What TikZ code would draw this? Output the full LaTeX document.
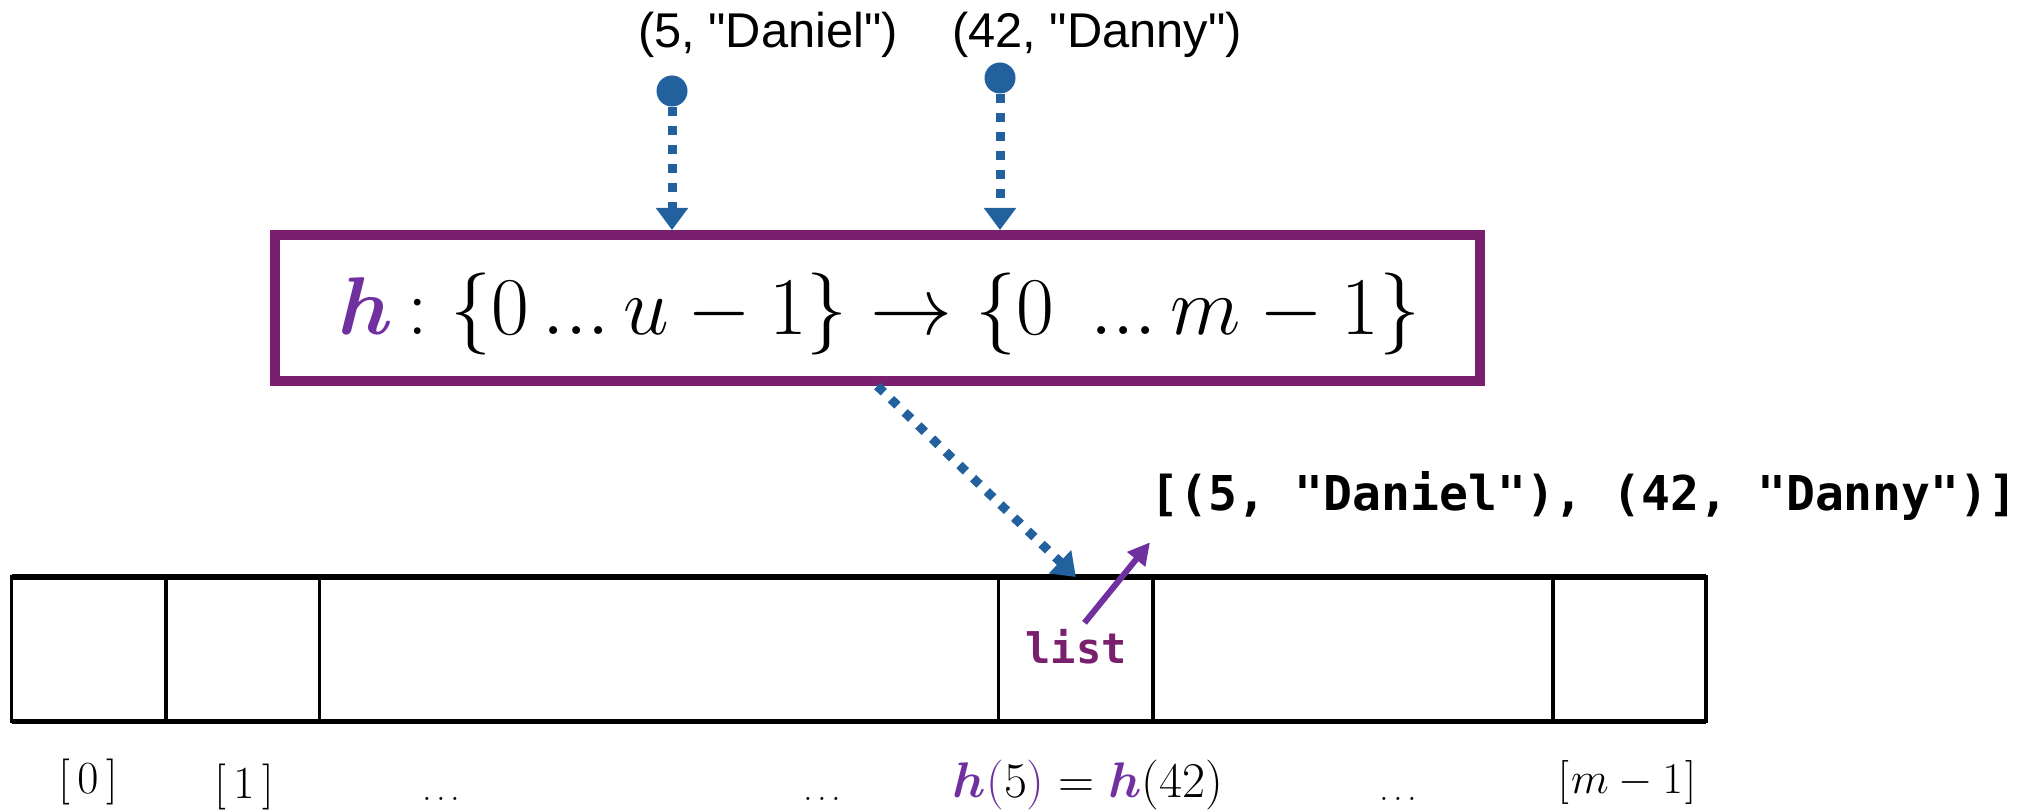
\RequirePackage{fix-cm}
\documentclass[tikz,border=0pt]{standalone}
\usepackage{amsmath,bm}
\usepackage{fontspec}
\newfontfamily\topfont{Liberation Sans}
\newfontfamily\codefont{DejaVu Sans Mono}
\usetikzlibrary{arrows.meta}
\definecolor{dblue}{RGB}{35,96,158}
\definecolor{boxpurple}{RGB}{122,31,110}
\definecolor{hpurple}{RGB}{112,48,160}
\tikzset{
  cell/.style={draw, line width=1.75pt, inner sep=0pt, outer sep=0pt, minimum height=72.25pt},
  dotnode/.style={circle, fill=dblue, inner sep=0pt, minimum size=15.5pt},
  bluearrow/.style={dblue, line width=4.5pt, dash pattern=on 4.5pt off 5pt,
    -{Triangle[width=15.5pt,length=11pt]}},
  purplearrow/.style={hpurple, line width=3pt, -{Triangle[width=11pt,length=11pt]}},
  toplabel/.style={anchor=base, inner sep=0pt, font=\topfont\fontsize{24.4}{29}\selectfont},
  idxlabel/.style={anchor=base, inner sep=0pt, font=\fontsize{23}{27}\selectfont},
  dotslabel/.style={anchor=base, inner sep=0pt, font=\fontsize{16}{19}\selectfont},
}
\begin{document}
\begin{tikzpicture}[x=0.5pt,y=-0.5pt]
\useasboundingbox (0,0) rectangle (2035,812);

% top tuples
\node[toplabel] (t1) at (768,48) {(5, "Daniel")};
\node[toplabel] (t2) at (1097,48) {(42, "Danny")};
\node[dotnode] (d1) at (672,91) {};
\node[dotnode] (d2) at (1000,78) {};

% hash function box
\node[draw=boxpurple, line width=5pt, minimum width=602.75pt, minimum height=73pt, inner sep=0pt] (hbox) at (877.25,308) {};
\node[anchor=base, inner sep=0pt, font=\fontsize{41}{49}\selectfont] (hfun) at (879.5,335)
  {$\textcolor{hpurple}{\bm{h}} \mathrel{\mkern-2mu:} \{0\,{.}{.}{.}\,u - 1\} \to \{0\;\,{.}{.}{.}\,m - 1\}$};

\draw[bluearrow] (d1) -- (d1 |- hbox.north);
\draw[bluearrow] (d2) -- (d2 |- hbox.north);

% array cells
\node[cell, minimum width=77.25pt] (c0) at (88.75,649.25) {};
\node[cell, minimum width=76.75pt] (c1) at (242.75,649.25) {};
\node[cell, minimum width=339.6pt] (cg1) at (659.1,649.25) {};
\node[cell, minimum width=77.15pt] (clist) at (1075.85,649.25) {};
\node[cell, minimum width=200pt] (cg2) at (1353,649.25) {};
\node[cell, minimum width=76.5pt] (clast) at (1629.5,649.25) {};
\draw[line width=2.75pt] (c0.north west) -- (clast.north east);
\draw[line width=2.75pt] (c0.south west) -- (clast.south east);

\draw[bluearrow] (hbox.south) -- (clist.north);

% list label and chain
\node[anchor=base, inner sep=0pt, outer sep=3pt, text=boxpurple, font=\codefont\bfseries\fontsize{21}{25}\selectfont] (listlbl) at (1076,663) {list};
\node[anchor=base west, inner xsep=0pt, inner ysep=11pt, font=\codefont\bfseries\fontsize{24}{29}\selectfont] (code) at (1150,510) {[(5, "Daniel"), (42, "Danny")]};
\draw[purplearrow] (listlbl.70) -- (code.south west);

% index labels
\node[idxlabel] (i0) at (88,793) {$[\mkern3mu0\mkern3mu]$};
\node[idxlabel] (i1) at (244,798) {$[\mkern3mu1\mkern3mu]$};
\node[dotslabel] (e1) at (441,800) {$\ldots$};
\node[dotslabel] (e2) at (822,800) {$\ldots$};
\node[idxlabel, font=\fontsize{25}{30}\selectfont] (ih) at (1088,797)
  {$\textcolor{hpurple}{\bm{h}(}5\textcolor{hpurple}{)} = \textcolor{hpurple}{\bm{h}}(42)$};
\node[dotslabel] (e3) at (1398,800) {$\ldots$};
\node[idxlabel, font=\fontsize{22}{26}\selectfont] (im) at (1627,793) {$[\mkern1mu m - 1\mkern1mu]$};
\end{tikzpicture}
\end{document}
